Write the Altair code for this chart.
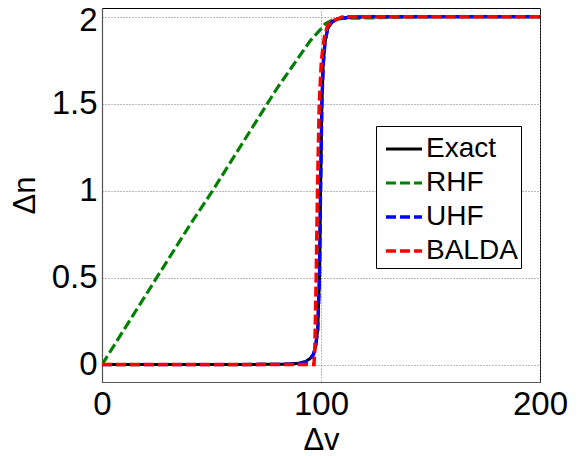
import altair as alt
import pandas as pd

series_names = ["Exact", "RHF", "UHF", "BALDA"]
series_colors = ["#000000", "#008000", "#0000ff", "#ff0000"]

exact_x = [0, 60, 85, 90, 93, 95, 96.5, 97.5, 98.5, 99.3, 99.8, 100.4, 101, 101.8, 103, 105, 108, 112, 120, 200]
exact_y = [0, 0, 0.003, 0.008, 0.018, 0.035, 0.06, 0.1, 0.2, 0.5, 1.0, 1.5, 1.72, 1.85, 1.93, 1.97, 1.99, 1.995, 2.0, 2.0]

rhf_x = [0, 10, 20, 30, 40, 50, 60, 70, 80, 90, 95, 100, 102, 105, 110, 150, 200]
rhf_y = [0, 0.2, 0.4, 0.6, 0.8, 0.99, 1.19, 1.39, 1.59, 1.77, 1.86, 1.93, 1.96, 1.98, 1.99, 2.0, 2.0]

uhf_x = [0, 60, 85, 90, 93, 95, 96.5, 97.5, 98.5, 99.3, 99.8, 100.4, 101, 101.8, 103, 105, 108, 112, 120, 200]
uhf_y = [0, 0, 0.002, 0.006, 0.015, 0.03, 0.055, 0.1, 0.2, 0.5, 1.0, 1.5, 1.72, 1.85, 1.93, 1.97, 1.99, 1.995, 2.0, 2.0]

balda_x = [0, 60, 96.8, 97.2, 97.8, 98.4, 99.2, 100.2, 101.5, 103, 106, 110, 200]
balda_y = [0, 0, 0, 0.1, 0.5, 1.0, 1.5, 1.75, 1.88, 1.95, 1.98, 2.0, 2.0]

rows = []
for name, xs, ys in [("Exact", exact_x, exact_y), ("RHF", rhf_x, rhf_y),
                     ("UHF", uhf_x, uhf_y), ("BALDA", balda_x, balda_y)]:
    for a, b in zip(xs, ys):
        rows.append({"dv": a, "dn": b, "series": name})
df = pd.DataFrame(rows)

FONT = "Liberation Sans"

base = alt.Chart(df).mark_line(clip=True).encode(
    x=alt.X("dv:Q", scale=alt.Scale(domain=[0, 200], nice=False),
            axis=alt.Axis(values=[0, 100, 200], title="Δv", labelFontSize=33,
                          titleFontSize=31, labelPadding=6, titlePadding=4,
                          labelFlush=False)),
    y=alt.Y("dn:Q", scale=alt.Scale(domain=[-0.1, 2.05], nice=False, zero=False),
            axis=alt.Axis(values=[0, 0.5, 1, 1.5, 2], format="~g", title="Δn",
                          labelFontSize=33, titleFontSize=31, labelPadding=5,
                          titlePadding=10, labelFlush=False,
                          labelOffset=alt.condition("datum.value == 2", alt.value(4), alt.value(0)))),
    color=alt.Color("series:N", scale=alt.Scale(domain=series_names, range=series_colors),
                    legend=alt.Legend(title=None)),
    strokeDash=alt.StrokeDash("series:N",
                              scale=alt.Scale(domain=series_names,
                                              range=[[1, 0], [10, 4], [10, 4], [10, 4]]),
                              legend=alt.Legend(title=None)),
    strokeWidth=alt.StrokeWidth("series:N",
                                scale=alt.Scale(domain=series_names, range=[3, 3.5, 3.5, 5]),
                                legend=alt.Legend(title=None)),
)

layers = [base.transform_filter(alt.datum.series == s) for s in series_names]

chart = alt.layer(*layers).properties(
    width=438, height=374,
    autosize=alt.AutoSizeParams(type="none"),
    padding={"left": 94, "top": 0, "right": 37, "bottom": 74},
).configure_view(
    stroke="#000000", strokeWidth=1
).configure_axis(
    labelFont=FONT, titleFont=FONT, labelColor="#000", titleColor="#000",
    titleFontWeight="normal", grid=True, gridColor="#777", gridDash=[1, 2],
    gridWidth=1, ticks=False, domainColor="#555", domainWidth=1.2
).configure_legend(
    orient="none", legendX=274, legendY=118, symbolType="stroke", symbolSize=1300,
    labelFont=FONT, labelFontSize=28, labelColor="#000", strokeColor="#000",
    fillColor="#fff", padding=3, rowPadding=0, symbolOffset=5, labelOffset=2,
    cornerRadius=0
)

chart.save("out.html", embed_options={"renderer": "svg", "actions": False})
